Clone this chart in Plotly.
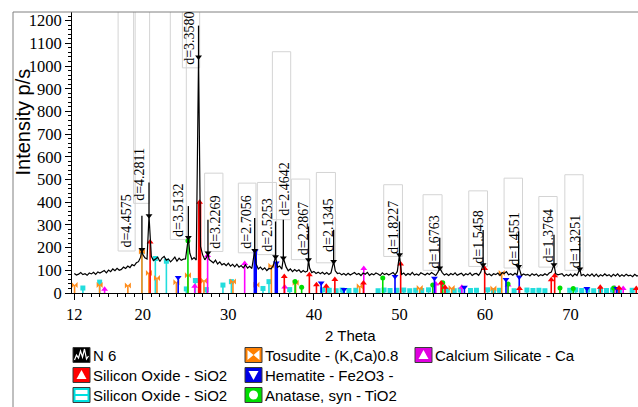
import numpy as np
import plotly.graph_objects as go

# ---------------- data ----------------
theta_start = 12.0
theta_step = 0.25
background_counts = [
    86, 79, 83, 90, 81, 85, 78, 88, 84, 91, 82, 93, 88, 95, 99, 89,
    101, 94, 106, 98, 109, 100, 104, 114, 108, 119, 112, 125, 120, 133, 138, 158,
    170, 155, 150, 160, 162, 143, 150, 158, 139, 154, 161, 145, 150, 137, 147, 158,
    140, 153, 144, 149, 150, 168, 175, 148, 156, 145, 185, 205, 168, 146, 160, 148,
    140, 133, 145, 128, 137, 124, 130, 121, 131, 118, 126, 115, 127, 114, 121, 111,
    124, 110, 118, 108, 119, 128, 106, 114, 103, 111, 99, 108, 106, 120, 130, 113,
    119, 105, 125, 115, 98, 106, 94, 103, 96, 102, 91, 99, 92, 97, 110, 90,
    95, 86, 92, 85, 91, 83, 90, 82, 89, 84, 98, 86, 88, 80, 86, 78,
    87, 79, 84, 90, 81, 86, 77, 88, 83, 91, 78, 85, 80, 88, 84, 77,
    89, 81, 86, 79, 85, 90, 80, 95, 95, 82, 88, 78, 86, 80, 91, 79,
    84, 78, 89, 82, 79, 87, 81, 90, 83, 77, 92, 96, 90, 79, 85, 77,
    86, 80, 89, 78, 83, 87, 76, 85, 80, 89, 77, 84, 86, 78, 92, 100,
    89, 80, 84, 76, 85, 81, 88, 77, 90, 86, 94, 80, 85, 78, 87, 80,
    86, 77, 84, 79, 82, 75, 85, 78, 84, 74, 81, 77, 85, 78, 88, 92,
    98, 86, 80, 84, 85, 74, 82, 76, 83, 73, 84, 77, 88, 77, 82, 74,
    82, 75, 84, 73, 83, 72, 80, 75, 84, 76, 81, 72, 82, 75, 84, 73,
    80, 74, 83, 76, 79, 72, 82, 75, 78,
]

peak_theta = [19.90, 20.73, 25.33, 26.52, 27.62, 33.08, 35.52, 36.43,
              39.37, 42.31, 50.00, 54.71, 59.78, 63.93, 68.06, 71.08]
peak_counts = [192, 340, 245, 1040, 176, 187, 160, 154,
               147, 139, 168, 110, 125, 117, 125, 106]
d_labels = ["d=4.4575", "d=4.2811", "d=3.5132", "d=3.3580", "d=3.2269", "d=2.7056",
            "d=2.5253", "d=2.4642", "d=2.2867", "d=2.1345", "d=1.8227", "d=1.6763",
            "d=1.5458", "d=1.4551", "d=1.3764", "d=1.3251"]
leader_top = [340, 487, 383, 1178, 323, 330, 315, 323, 293, 279, 315, 243, 278, 271, 257, 249]

# label placement (layout)
label_x = [18.08, 19.63, 24.16, 25.44, 28.50, 32.11, 34.54, 36.47,
           38.73, 41.73, 49.33, 54.09, 59.25, 63.48, 67.46, 70.53]
label_y = [195, 402, 242, 1000, 190, 190, 176, 337, 160, 177, 168, 103, 125, 117, 132, 103]
box_x0 = [17.12, 18.93, 23.22, 24.63, 27.23, 31.17, 33.39, 35.15,
          37.37, 40.29, 48.16, 52.76, 58.10, 62.23, 66.29, 69.33]
box_x1 = [19.11, 20.80, 25.09, 26.65, 29.37, 33.23, 35.62, 37.29,
          39.51, 42.52, 50.35, 54.98, 60.29, 64.38, 68.43, 71.47]
box_y0 = [185, 395, 236, 992, 183, 177, 169, 323, 147, 133, 161, 100, 117, 110, 114, 100]
box_y1 = [1400, 1400, 1400, 1400, 528, 484, 487, 1063, 502, 531, 477, 433, 450, 506, 425, 521]

# reference patterns (stick positions and heights)
tosudite_theta = [12.03, 14.96, 18.26, 19.90, 20.72, 21.66, 23.93, 25.28, 27.15,
                  30.54, 33.28, 35.03, 37.87, 45.36, 52.37, 56.10, 60.98, 61.95]
tosudite_h = [35, 35, 33, 183, 88, 66, 47, 78, 54, 51, 36, 120, 45, 30, 22, 22, 20, 88]

casi_theta = [15.54, 26.07, 27.58, 31.91, 36.59, 45.83, 54.25, 57.29, 62.70, 75.18, 76.15]
casi_h = [16, 30, 165, 130, 26, 108, 40, 25, 35, 22, 20]

quartz_theta = [20.86, 26.64, 36.54, 39.47, 40.30, 41.45, 42.45, 45.79, 50.14,
                54.87, 55.32, 59.96, 64.03, 67.74, 68.14, 73.47, 75.66, 77.68]
quartz_h = [225, 400, 73, 80, 36, 30, 60, 44, 128, 44, 25, 108, 20, 58, 76, 25, 22, 20]

hematite_theta = [24.14, 33.15, 35.61, 40.85, 43.52, 49.48, 54.09, 57.59, 62.45, 64.00, 71.90, 75.40]
hematite_h = [68, 185, 132, 44, 15, 73, 65, 25, 60, 70, 20, 20]

cristo_theta = [13.00, 14.96, 19.90, 21.47, 22.76, 25.09, 26.15, 27.43, 29.37, 30.36,
                34.05, 34.75, 37.17, 41.0, 41.8, 42.6, 43.3, 44.1, 44.9, 47.5, 48.2,
                48.9, 49.7, 50.5, 51.2, 51.9, 52.6, 53.4, 55.6, 56.4, 57.1, 58.3, 59.0,
                60.3, 61.0, 61.7, 63.4, 64.9, 65.6, 66.3, 67.0, 69.9, 70.6, 71.3, 72.0,
                72.7, 73.5, 74.2, 74.9, 75.7, 77.2]
cristo_h = [22, 48, 185, 152, 140, 18, 55, 15, 35, 50, 20, 50, 15, 14, 12, 10, 13, 11,
            12, 10, 13, 11, 12, 13, 10, 12, 11, 14, 12, 10, 13, 11, 12, 14, 11, 12, 10,
            13, 11, 12, 10, 12, 14, 11, 13, 10, 12, 11, 13, 10, 12]

anatase_theta = [25.28, 37.80, 38.57, 48.05, 53.89, 55.06, 62.69, 68.76, 70.31, 75.03]
anatase_h = [230, 51, 25, 66, 35, 45, 40, 22, 20, 22]

tick_vals = [12, 20, 30, 40, 50, 60, 70]

# ---------------- figure geometry ----------------
W, H = 638, 407
L, R, T, B = 72, 0, 12, 114
PW, PH = W - L - R, H - T - B


def px_x(px):
    return (px - L) / PW


def px_y(py):
    return (H - B - py) / PH


# ---------------- build spectrum ----------------
bg = np.array(background_counts, dtype=float)
bg_t = theta_start + theta_step * np.arange(len(bg))
pk_t = np.array(peak_theta)
keep = np.min(np.abs(bg_t[:, None] - pk_t[None, :]), axis=1) > 0.09
spec_t = np.concatenate([bg_t[keep], pk_t])
spec_c = np.concatenate([bg[keep], np.array(peak_counts, dtype=float)])
order = np.argsort(spec_t)
spec_t, spec_c = spec_t[order], spec_c[order]


def sticks(theta, h, base=0):
    xs, ys = [], []
    for t, v in zip(theta, h):
        xs += [t, t, None]
        ys += [base, v, None]
    return xs, ys


fig = go.Figure()

phases = [
    (cristo_theta, cristo_h, "#22DDDD", "square", 5),
    (tosudite_theta, tosudite_h, "#FF8C1A", "bowtie", 6),
    (casi_theta, casi_h, "#FF00FF", "triangle-up", 6),
    (anatase_theta, anatase_h, "#00DD00", "circle", 5),
    (hematite_theta, hematite_h, "#0000FF", "triangle-down", 6),
    (quartz_theta, quartz_h, "#FF0000", "triangle-up", 6),
]
thick = {"#FF0000": 400, "#0000FF": 132}
for th, hh, col, sym, ms in phases:
    xs, ys = sticks(th, hh)
    fig.add_trace(go.Scatter(x=xs, y=ys, mode="lines", line=dict(color=col, width=1.6),
                             hoverinfo="skip", showlegend=False))
    if col in thick:
        sel = [(t, v) for t, v in zip(th, hh) if v >= thick[col]]
        xs2, ys2 = sticks([s[0] for s in sel], [s[1] for s in sel])
        fig.add_trace(go.Scatter(x=xs2, y=ys2, mode="lines", line=dict(color=col, width=3.5),
                                 hoverinfo="skip", showlegend=False))
    fig.add_trace(go.Scatter(x=th, y=hh, mode="markers",
                             marker=dict(color=col, symbol=sym, size=ms, line=dict(width=0)),
                             hoverinfo="skip", showlegend=False))

# measured pattern
fig.add_trace(go.Scatter(x=spec_t, y=spec_c, mode="lines", line=dict(color="black", width=1.2),
                         name="N 6", showlegend=False))

# leader lines and peak markers
lx, ly = [], []
for t, c0, c1 in zip(peak_theta, peak_counts, leader_top):
    lx += [t, t, None]
    ly += [c0, c1, None]
fig.add_trace(go.Scatter(x=lx, y=ly, mode="lines", line=dict(color="black", width=1.3),
                         hoverinfo="skip", showlegend=False))
fig.add_trace(go.Scatter(x=peak_theta, y=peak_counts, mode="markers",
                         marker=dict(color="black", symbol="triangle-down", size=6),
                         hoverinfo="skip", showlegend=False))

shapes = []
annotations = []
# label boxes
for x0, x1, y0, y1 in zip(box_x0, box_x1, box_y0, box_y1):
    shapes.append(dict(type="rect", xref="x", yref="y", x0=x0, x1=x1, y0=y0, y1=y1,
                       line=dict(color="#d4d4d4", width=1), fillcolor="rgba(0,0,0,0)",
                       layer="below"))
for txt, x, y in zip(d_labels, label_x, label_y):
    annotations.append(dict(x=x, y=y, xref="x", yref="y", text=txt, showarrow=False,
                            textangle=-90, xanchor="center", yanchor="bottom",
                            font=dict(family="Liberation Serif", size=14, color="black"),
                            borderpad=0))

# frame lines
shapes.append(dict(type="line", xref="paper", yref="paper", x0=px_x(13), x1=1.0,
                   y0=1.0, y1=1.0, line=dict(color="#808080", width=1)))
shapes.append(dict(type="line", xref="paper", yref="paper", x0=px_x(13), x1=px_x(13),
                   y0=1.0, y1=px_y(407), line=dict(color="#808080", width=1)))

# axis titles
annotations.append(dict(x=px_x(22.5), y=px_y(122), xref="paper", yref="paper",
                        text="Intensity p/s", showarrow=False, textangle=-90,
                        xanchor="center", yanchor="middle",
                        font=dict(family="Liberation Sans", size=20, color="black")))
annotations.append(dict(x=px_x(350), y=px_y(335), xref="paper", yref="paper",
                        text="2 Theta", showarrow=False, xanchor="center", yanchor="middle",
                        font=dict(family="Liberation Sans", size=15, color="black")))

# legend (drawn as icons + text)
legend_cols = [73, 245, 415]
legend_rows = [355, 375, 395]
legend_items = [
    ("N 6", "#000000", "zigzag", 0, 0),
    ("Tosudite - (K,Ca)0.8", "#FF8000", "bowtie", 1, 0),
    ("Calcium Silicate - Ca", "#E000E0", "triup", 2, 0),
    ("Silicon Oxide - SiO2", "#FF0000", "triup", 0, 1),
    ("Hematite - Fe2O3 -", "#0000E6", "tridown", 1, 1),
    ("Silicon Oxide - SiO2", "#00E0E0", "bars", 0, 2),
    ("Anatase, syn - TiO2", "#00DD00", "circle", 1, 2),
]
sym_paths = {
    "zigzag": "M-7,-5 L-5,0 L-3,-3 L-1,4 L1,-2 L3,6 L5,-4 L7,-1",
    "bowtie": "M-6,5 L0,0 L-6,-5 Z M6,5 L0,0 L6,-5 Z",
    "triup": "M-5,-4 L5,-4 L0,5 Z",
    "tridown": "M-5,4 L5,4 L0,-5 Z",
    "bars": "M-6,-5 L6,-5 L6,-1 L-6,-1 Z M-6,1 L6,1 L6,5 L-6,5 Z",
}
for name, col, sym, ci, ri in legend_items:
    cx = legend_cols[ci] + 8.5
    cy = legend_rows[ri]
    anchor = dict(xref="paper", yref="paper", xsizemode="pixel", ysizemode="pixel",
                  xanchor=px_x(cx), yanchor=px_y(cy))
    shapes.append(dict(type="rect", x0=-8.5, x1=8.5, y0=-7.5, y1=7.5, fillcolor=col,
                       line=dict(color="#3a3a3a", width=1), **anchor))
    if sym == "circle":
        shapes.append(dict(type="circle", x0=-4.5, x1=4.5, y0=-4.5, y1=4.5, fillcolor="white",
                           line=dict(width=0), **anchor))
    elif sym == "zigzag":
        shapes.append(dict(type="path", path=sym_paths[sym], line=dict(color="white", width=1.2),
                           **anchor))
    else:
        shapes.append(dict(type="path", path=sym_paths[sym], fillcolor="white",
                           line=dict(width=0), **anchor))
    annotations.append(dict(x=px_x(legend_cols[ci] + 18), y=px_y(cy), xref="paper", yref="paper",
                            text=name, showarrow=False, xanchor="left", yanchor="middle",
                            font=dict(family="Liberation Sans", size=15, color="black")))

tick_font = dict(family="Liberation Serif", size=16.5, color="black")
fig.update_layout(
    width=W, height=H,
    margin=dict(l=L, r=R, t=T, b=B, pad=0),
    paper_bgcolor="white", plot_bgcolor="white",
    showlegend=False,
    shapes=shapes, annotations=annotations,
    xaxis=dict(range=[11.73, 77.88], showline=True, linecolor="black", linewidth=1,
               ticks="outside", ticklen=6, tickcolor="black", tickmode="array",
               tickvals=tick_vals, ticktext=[str(v) for v in tick_vals],
               minor=dict(ticks="outside", ticklen=3, tickcolor="black", tickmode="linear",
                          tick0=0, dtick=1),
               showgrid=False, zeroline=False, tickfont=tick_font),
    yaxis=dict(range=[0, 1238], showline=True, linecolor="black", linewidth=1,
               ticks="outside", ticklen=6, tickcolor="black", dtick=100, tick0=0,
               minor=dict(ticks="outside", ticklen=3, tickcolor="black", dtick=20),
               showgrid=False, zeroline=False, tickfont=tick_font),
)

fig.write_html("out.html")
